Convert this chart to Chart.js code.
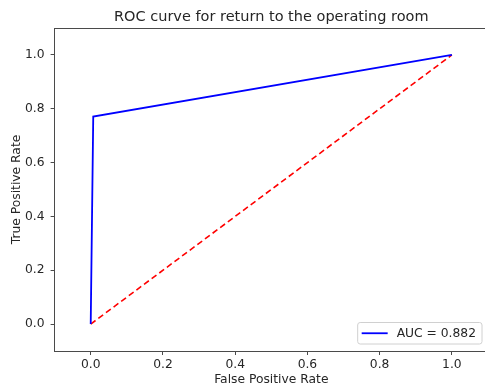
<!DOCTYPE html>
<html>
<head>
<meta charset="utf-8">
<script src="https://cdn.jsdelivr.net/npm/chart.js@4/dist/chart.umd.min.js"></script>
<style>
  html, body { margin: 0; padding: 0; background: #fff; overflow: hidden; }
  #wrap { width: 542px; height: 392px; }
</style>
</head>
<body>
<div id="wrap"><canvas id="roc-chart"></canvas></div>
<script>
// ROC curve points (false positive rate / true positive rate)
const rocFpr = [0, 0.007, 1];
const rocTpr = [0, 0.771, 1];
const aucValue = 0.882;

// chance diagonal
const chanceFpr = [0, 1];
const chanceTpr = [0, 1];

// axis ticks
const xTickValues = [0, 0.2, 0.4, 0.6, 0.8, 1.0];
const yTickValues = [0, 0.2, 0.4, 0.6, 0.8, 1.0];

const chartTitle = 'ROC curve for return to the operating room';

const fontFamily = "'DejaVu Sans', sans-serif";
const textColor = '#262626';
const spineColor = '#4a4a4a';
const labelSize = 12.3;

// Title centred over the plot area, plus top/right frame lines
const frameBox = {
    id: 'frameBox',
    afterDraw(chart) {
        const {ctx, chartArea} = chart;
        ctx.save();
        ctx.strokeStyle = spineColor;
        ctx.lineWidth = 1;
        ctx.beginPath();
        ctx.moveTo(chartArea.left, chartArea.top + 0.5);
        ctx.lineTo(chartArea.right, chartArea.top + 0.5);
        ctx.lineTo(chartArea.right, chartArea.bottom);
        ctx.stroke();

        ctx.font = `14.5px ${fontFamily}`;
        ctx.fillStyle = textColor;
        ctx.textAlign = 'center';
        ctx.textBaseline = 'alphabetic';
        ctx.fillText(chartTitle, (chartArea.left + chartArea.right) / 2, chartArea.top - 7);
        ctx.restore();
    }
};

// Legend box in the lower right corner of the plot area
const cornerLegend = {
    id: 'cornerLegend',
    afterDraw(chart) {
        const {ctx, chartArea} = chart;
        const ds = chart.data.datasets[0];
        ctx.save();
        ctx.font = `${labelSize}px ${fontFamily}`;
        const textWidth = ctx.measureText(ds.label).width;
        const boxW = 4 + 26 + 9 + textWidth + 6;
        const boxH = 21.5;
        const x0 = chartArea.right - 6 - boxW;
        const y0 = chartArea.bottom - 7 - boxH;
        ctx.beginPath();
        ctx.roundRect(x0, y0, boxW, boxH, 2.5);
        ctx.fillStyle = 'rgba(255,255,255,0.8)';
        ctx.fill();
        ctx.strokeStyle = '#d0d0d0';
        ctx.lineWidth = 1;
        ctx.stroke();
        const midY = y0 + boxH / 2;
        ctx.beginPath();
        ctx.moveTo(x0 + 4, midY);
        ctx.lineTo(x0 + 30, midY);
        ctx.strokeStyle = ds.borderColor;
        ctx.lineWidth = ds.borderWidth;
        ctx.stroke();
        ctx.fillStyle = textColor;
        ctx.textBaseline = 'middle';
        ctx.fillText(ds.label, x0 + 39, midY + 0.5);
        ctx.restore();
    }
};

const canvas = document.querySelector('#roc-chart');
new Chart(canvas, {
    type: 'scatter',
    data: {
        datasets: [
            {
                label: `AUC = ${aucValue.toFixed(3)}`,
                data: rocFpr.map((x, i) => ({x: x, y: rocTpr[i]})),
                showLine: true,
                borderColor: '#0000ff',
                backgroundColor: '#0000ff',
                borderWidth: 1.8,
                pointRadius: 0,
                tension: 0
            },
            {
                label: 'chance',
                data: chanceFpr.map((x, i) => ({x: x, y: chanceTpr[i]})),
                showLine: true,
                borderColor: '#ff0000',
                backgroundColor: '#ff0000',
                borderWidth: 1.6,
                borderDash: [6, 3.5],
                pointRadius: 0
            }
        ]
    },
    options: {
        responsive: true,
        maintainAspectRatio: false,
        animation: false,
        layout: { padding: { left: 0, right: 54, top: 28, bottom: 0 } },
        plugins: {
            legend: { display: false },
            tooltip: { enabled: false },
            title: { display: false }
        },
        scales: {
            x: {
                type: 'linear',
                min: -0.1,
                max: 1.1,
                afterBuildTicks: (scale) => { scale.ticks = xTickValues.map(v => ({value: v})); },
                afterFit: (scale) => { scale.height = 41; },
                grid: { drawOnChartArea: false, drawTicks: true, tickLength: 4, color: spineColor },
                border: { display: true, color: spineColor, width: 1 },
                ticks: {
                    color: textColor,
                    padding: 2.5,
                    maxRotation: 0,
                    font: { family: fontFamily, size: labelSize },
                    callback: (v) => v.toFixed(1)
                },
                title: {
                    display: true,
                    text: 'False Positive Rate',
                    color: textColor,
                    font: { family: fontFamily, size: labelSize },
                    padding: { top: 0, bottom: 4.9 }
                }
            },
            y: {
                type: 'linear',
                min: -0.1,
                max: 1.1,
                afterBuildTicks: (scale) => { scale.ticks = yTickValues.map(v => ({value: v})); },
                afterFit: (scale) => { scale.width = 54.6; },
                grid: { drawOnChartArea: false, drawTicks: true, tickLength: 4, color: spineColor },
                border: { display: true, color: spineColor, width: 1 },
                ticks: {
                    color: textColor,
                    padding: 6,
                    font: { family: fontFamily, size: labelSize },
                    callback: (v) => v.toFixed(1)
                },
                title: {
                    display: true,
                    text: 'True Positive Rate',
                    color: textColor,
                    font: { family: fontFamily, size: labelSize },
                    padding: { top: 9.4, bottom: 0 }
                }
            }
        }
    },
    plugins: [frameBox, cornerLegend]
});
</script>
</body>
</html>
